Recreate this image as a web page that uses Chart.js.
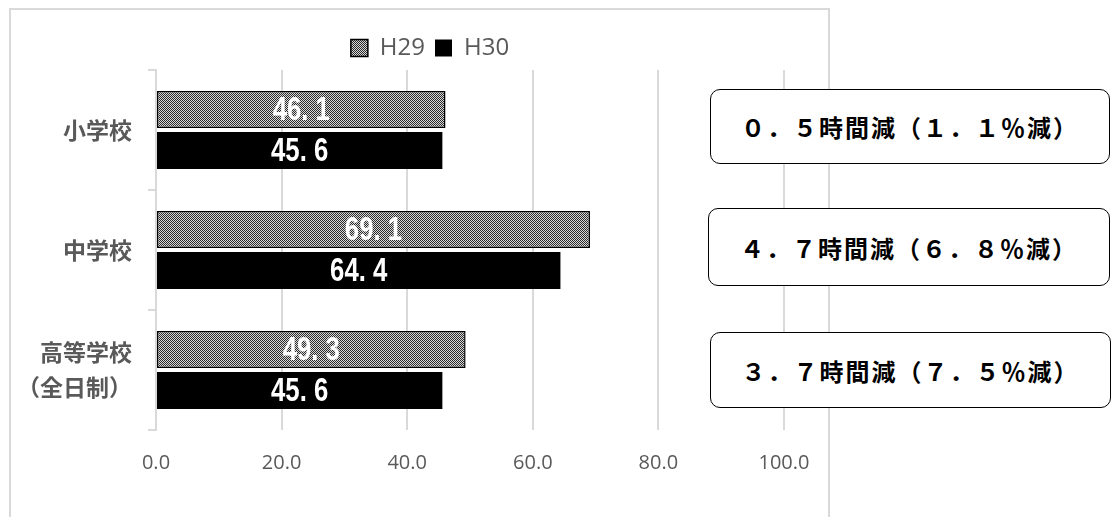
<!DOCTYPE html>
<html>
<head>
<meta charset="utf-8">
<script src="https://cdn.jsdelivr.net/npm/chart.js@4"></script>
<style>
    body { margin: 0; background: #fff; }
    #wrap { position: relative; width: 1112px; height: 517px; overflow: hidden; }
    #frame { position: absolute; left: 9px; top: 8px; width: 821px; height: 600px; border: 2px solid #d9d9d9; box-sizing: border-box; }
    canvas { position: absolute; left: 0; top: 0; }
    .note { position: absolute; border: 1.5px solid #000; border-radius: 10px; box-sizing: border-box;
            display: flex; align-items: center; justify-content: center; letter-spacing: 2px;
            font: bold 24px "Noto Sans CJK JP"; color: #000; background: #fff; }
</style>
</head>
<body>
<div id="wrap">
    <div id="frame"></div>
    <canvas id="chart" width="1112" height="517"></canvas>
    <div class="note" style="left:710px; top:89px; width:400px; height:75px;">０．５時間減（１．１％減）</div>
    <div class="note" style="left:708px; top:208px; width:402px; height:78px;">４．７時間減（６．８％減）</div>
    <div class="note" style="left:710px; top:332px; width:401px; height:76px;">３．７時間減（７．５％減）</div>
</div>
<script>
const categories = ['小学校', '中学校', ['高等学校', '（全日制）']];
const h29 = [46.1, 69.1, 49.3];
const h30 = [45.6, 64.4, 45.6];
const xTicks = [0, 20, 40, 60, 80, 100];

// small dither pattern for the H29 bars
function makePattern() {
    const c = document.createElement('canvas');
    c.width = 2; c.height = 2;
    const g = c.getContext('2d');
    g.fillStyle = '#d8d8d8'; g.fillRect(0, 0, 2, 2);
    g.fillStyle = '#2a2a2a'; g.fillRect(0, 0, 1, 1); g.fillRect(1, 1, 1, 1);
    return g.createPattern(c, 'repeat');
}

// white values in the middle of each bar (squeezed to look condensed)
const barLabels = {
    id: 'barLabels',
    afterDatasetsDraw(chart) {
        const ctx = chart.ctx;
        chart.data.datasets.forEach((ds, i) => {
            chart.getDatasetMeta(i).data.forEach((bar, j) => {
                const txt = ds.data[j].toFixed(1).replace('.', '. ');
                ctx.save();
                ctx.translate((bar.x + bar.base) / 2, bar.y + 1);
                ctx.scale(0.78, 1);
                ctx.fillStyle = '#fff';
                ctx.font = 'bold 33px "Liberation Sans", sans-serif';
                ctx.textAlign = 'center';
                ctx.textBaseline = 'middle';
                ctx.fillText(txt, 0, 0);
                ctx.restore();
            });
        });
    }
};

// keep the legend centred over the frame, not the whole canvas
const legendShift = {
    id: 'legendShift',
    beforeDraw(chart) {
        chart.legend.left = 76;
        chart.legend.right = 784;
    }
};

const ctx = document.getElementById('chart').getContext('2d');
new Chart(ctx, {
    type: 'bar',
    data: {
        labels: categories,
        datasets: [{
            label: 'H29',
            data: h29,
            backgroundColor: makePattern(),
            borderColor: '#000',
            borderWidth: 1.5,
            borderSkipped: false
        }, {
            label: 'H30',
            data: h30,
            backgroundColor: '#000',
            borderColor: '#000',
            borderWidth: 0
        }]
    },
    options: {
        indexAxis: 'y',
        responsive: false,
        animation: false,
        categoryPercentage: 0.683,
        barPercentage: 0.9,
        layout: { padding: { left: 0, right: 328, top: 26, bottom: 0 } },
        plugins: {
            legend: {
                labels: {
                    color: '#595959',
                    font: { family: '"Open Sans"', size: 24 },
                    boxWidth: 17,
                    boxHeight: 17,
                    padding: 10
                }
            },
            tooltip: { enabled: false }
        },
        scales: {
            x: {
                min: 0,
                max: 100,
                afterBuildTicks: s => { s.ticks = xTicks.map(v => ({ value: v })); },
                afterFit: s => { s.height = 87; },
                border: { display: false },
                grid: { color: '#d9d9d9', lineWidth: 2, drawTicks: false },
                ticks: {
                    padding: 21,
                    color: '#595959',
                    font: { family: '"Open Sans"', size: 20 },
                    callback: v => v.toFixed(1)
                }
            },
            y: {
                afterFit: s => { s.width = 156; },
                border: { display: true, color: '#d9d9d9', width: 2 },
                grid: { drawOnChartArea: false, color: '#d9d9d9', lineWidth: 2, tickLength: 8 },
                ticks: {
                    padding: 16,
                    color: '#595959',
                    font: { family: '"Noto Sans CJK JP"', size: 23, weight: 'bold', lineHeight: 1.5 }
                }
            }
        }
    },
    plugins: [barLabels, legendShift]
});
</script>
</body>
</html>
